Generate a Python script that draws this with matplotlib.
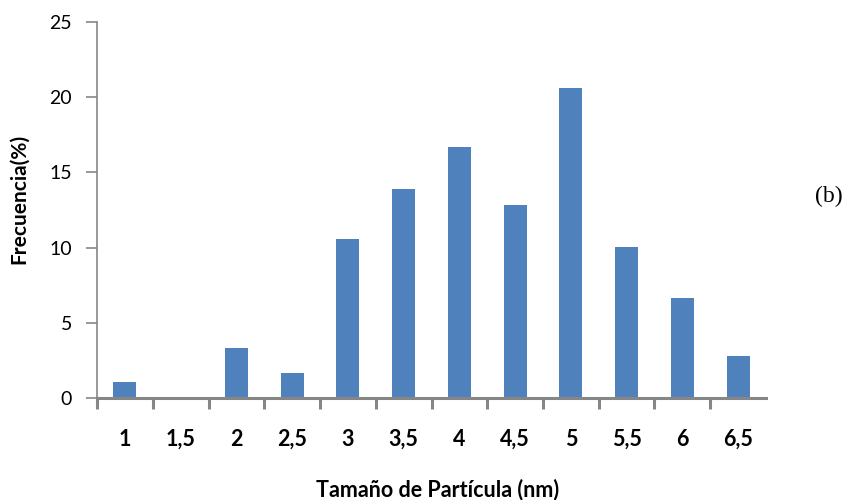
import numpy as np
import matplotlib
matplotlib.use("Agg")
import matplotlib.pyplot as plt

# Particle size distribution data
sizes = ["1", "1,5", "2", "2,5", "3", "3,5", "4", "4,5", "5", "5,5", "6", "6,5"]
freq = [1.1, 0.0, 3.35, 1.7, 10.6, 13.9, 16.7, 12.8, 20.6, 10.05, 6.65, 2.8]

plt.rcParams['font.family'] = ['Lato', 'DejaVu Sans']

fig = plt.figure(figsize=(8.46, 5), dpi=100)
ax = fig.add_axes([0.1147, 0.2034, 0.7907, 0.7532])

x = np.arange(len(sizes))
ax.bar(x, freq, width=0.41, color="#4F81BD")

axis_color = "#868686"
ax.set_xlim(-0.5, len(sizes) - 0.5)
ax.set_ylim(0, 25)
ax.set_yticks([0, 5, 10, 15, 20, 25])
ax.tick_params(axis="y", direction="out", length=8, width=1.2, color=axis_color,
               labelsize=14, pad=10)

# tick marks at category boundaries, labels at category centres
ax.set_xticks(x - 0.5)
ax.set_xticklabels([])
ax.tick_params(axis="x", which="major", direction="out", length=8, width=2.2, color=axis_color)
ax.set_xticks(x, minor=True)
ax.set_xticklabels(sizes, minor=True, fontweight="bold", fontsize=15.5)
ax.tick_params(axis="x", which="minor", length=0, pad=22)

for side in ["top", "right"]:
    ax.spines[side].set_visible(False)
ax.spines["left"].set_color(axis_color)
ax.spines["left"].set_linewidth(1.2)
ax.spines["bottom"].set_color(axis_color)
ax.spines["bottom"].set_linewidth(2.2)

ax.set_xlabel("Tamaño de Partícula (nm)", fontweight="bold", fontsize=15.5)
ax.xaxis.set_label_coords(0.509, -0.214)
ax.set_ylabel("Frecuencia(%)", fontweight="bold", fontsize=15)
ax.yaxis.set_label_coords(-0.102, 0.529)

fig.text(0.996, 0.607, "(b)", family="Liberation Serif", fontsize=17, ha="right", va="center")

fig.savefig("out.png", dpi=100)
